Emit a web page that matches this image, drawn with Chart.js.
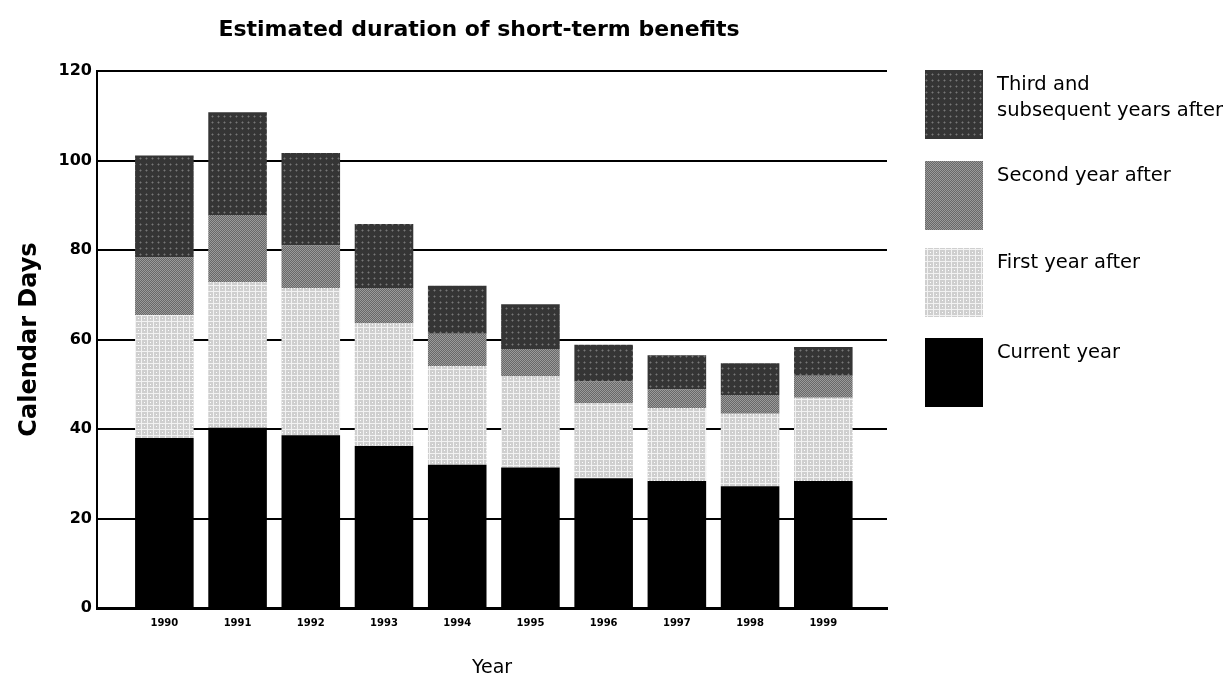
<!DOCTYPE html>
<html>
<head>
<meta charset="utf-8">
<script src="https://cdn.jsdelivr.net/npm/chart.js@4/dist/chart.umd.min.js"></script>
<style>
  html, body { margin: 0; padding: 0; background: #fff; }
  #wrap { width: 1232px; height: 681px; }
</style>
</head>
<body>
<div id="wrap"><canvas id="chart" width="1232" height="681"></canvas></div>
<script>
// Datos (dias de calendario por año)
const years = [1990, 1991, 1992, 1993, 1994, 1995, 1996, 1997, 1998, 1999];
const currentYear   = [38.0, 40.3, 38.6, 36.2, 32.0, 31.4, 29.0, 28.4, 27.2, 28.4];
const firstYear     = [27.5, 32.5, 32.9, 27.5, 22.1, 20.4, 16.8, 16.3, 16.2, 18.6];
const secondYear    = [12.8, 15.0,  9.5,  7.8,  7.2,  6.1,  4.8,  4.1,  4.2,  4.9];
const thirdYear     = [22.8, 23.0, 20.7, 14.3, 10.7, 10.0,  8.2,  7.7,  7.1,  6.4];
const seriesLabels  = ['Current year', 'First year after', 'Second year after', 'Third and\nsubsequent years after'];
const yTicks = [0, 20, 40, 60, 80, 100, 120];

// Tramas en escala de grises
function makePattern(size, bg, dots) {
    const c = document.createElement('canvas');
    c.width = size; c.height = size;
    const g = c.getContext('2d');
    g.fillStyle = bg;
    g.fillRect(0, 0, size, size);
    dots.forEach(d => {
        g.fillStyle = d[2];
        g.fillRect(d[0], d[1], 1, 1);
    });
    return g.createPattern(c, 'repeat');
}
const ctx = document.getElementById('chart').getContext('2d');

const patThird = makePattern(6, '#353535', [[2, 2, '#777'], [2, 1, '#555'], [1, 2, '#555'], [3, 2, '#555'], [2, 3, '#555']]);
const patSecond = (() => {
    const d = [];
    for (let y = 0; y < 4; y++) for (let x = 0; x < 4; x++) if ((x + y) % 2 === 0) d.push([x, y, '#9a9a9a']);
    return makePattern(4, '#686868', d);
})();
const patFirst = (() => {
    const d = [];
    for (let i = 0; i < 6; i++) { d.push([i, 3, '#f2f2f2']); d.push([3, i, '#f2f2f2']); }
    d.push([0, 0, '#ffffff']);
    return makePattern(6, '#cfcfcf', d);
})();

const fills = ['#000000', patFirst, patSecond, patThird];
const series = [currentYear, firstYear, secondYear, thirdYear];

const datasets = series.map((vals, k) => ({
    label: seriesLabels[k],
    data: vals.map((v, i) => ({ x: years[i], y: v })),
    backgroundColor: fills[k],
    borderWidth: 0,
    categoryPercentage: 1,
    barPercentage: 0.8
}));

// Titulo y leyenda dibujados a mano
const extras = {
    id: 'extras',
    afterDraw(chart) {
        const c = chart.ctx;
        c.save();
        c.fillStyle = '#000';
        c.font = 'bold 22px "DejaVu Sans"';
        c.textAlign = 'center';
        c.textBaseline = 'middle';
        c.fillText('Estimated duration of short-term benefits', 479, 30);

        const tops = [338, 248, 161, 70];
        c.textAlign = 'left';
        c.font = '19.5px "DejaVu Sans"';
        chart.data.datasets.forEach((ds, k) => {
            const top = tops[k];
            c.fillStyle = ds.backgroundColor;
            c.fillRect(925, top, 58, 69);
            c.fillStyle = '#000';
            const lines = ds.label.split('\n');
            lines.forEach((ln, j) => c.fillText(ln, 997, top + 15 + j * 26));
        });
        c.restore();
    }
};

new Chart(ctx, {
    type: 'bar',
    data: { datasets },
    options: {
        responsive: false,
        animation: false,
        layout: { padding: { top: 71, right: 345, left: 0, bottom: 0 } },
        plugins: {
            legend: { display: false },
            tooltip: { enabled: false }
        },
        scales: {
            x: {
                type: 'linear',
                stacked: true,
                offset: false,
                min: 1989.08,
                max: 1999.87,
                grid: { display: false, drawTicks: false, offset: false },
                border: { display: true, color: '#000', width: 3 },
                afterBuildTicks: s => { s.ticks = years.map(v => ({ value: v })); },
                afterFit: s => { s.height = 73; },
                ticks: {
                    color: '#000',
                    padding: 9,
                    autoSkip: false,
                    maxRotation: 0,
                    font: { family: 'DejaVu Sans', size: 10, weight: 'bold' },
                    callback: v => String(v)
                },
                title: {
                    display: true,
                    text: 'Year',
                    color: '#000',
                    font: { family: 'DejaVu Sans', size: 19 },
                    padding: { top: 0, bottom: 2 }
                }
            },
            y: {
                stacked: true,
                min: 0,
                max: 120,
                afterBuildTicks: s => { s.ticks = yTicks.map(v => ({ value: v })); },
                afterFit: s => { s.width = 97; },
                grid: { color: '#000', lineWidth: 2, drawTicks: false },
                border: { display: true, color: '#000', width: 2 },
                ticks: {
                    color: '#000',
                    padding: 5,
                    font: { family: 'DejaVu Sans', size: 16, weight: 'bold' }
                },
                title: {
                    display: true,
                    text: 'Calendar Days',
                    color: '#000',
                    font: { family: 'DejaVu Sans', size: 24, weight: 'bold' },
                    padding: { top: 15, bottom: 0 }
                }
            }
        }
    },
    plugins: [extras]
});
</script>
</body>
</html>
